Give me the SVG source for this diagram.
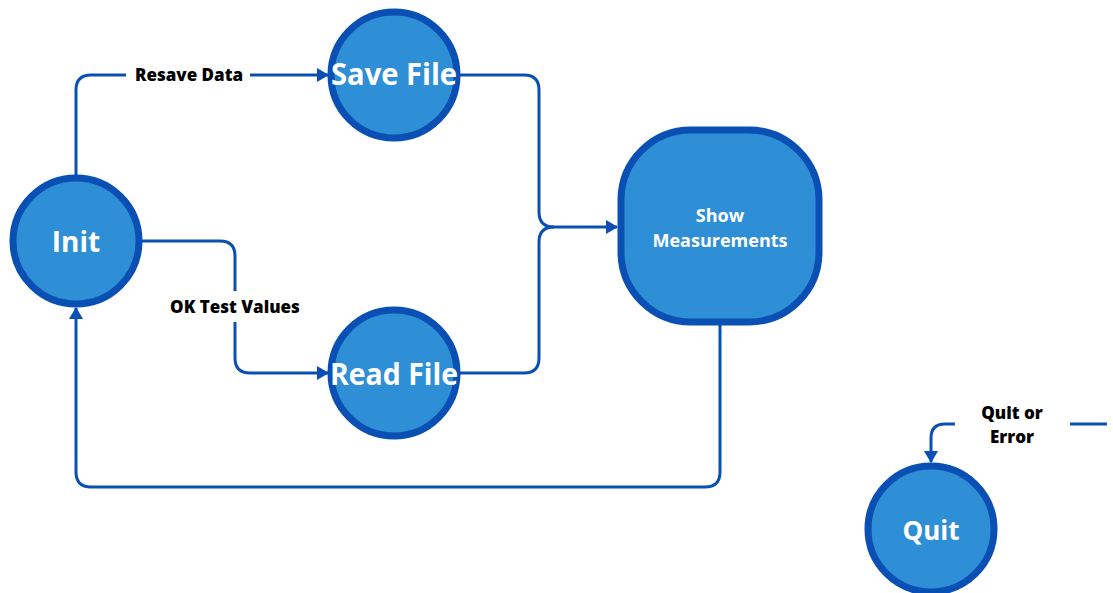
<svg xmlns="http://www.w3.org/2000/svg" width="1113" height="593" viewBox="0 0 1113 593">
<style>
.node{fill:#2f8fd6;stroke:#0a50b4;stroke-width:7}
.edge{fill:none;stroke:#0a50b4;stroke-width:3}
.nt{fill:#ffffff;font-family:"Open Sans","Liberation Sans",sans-serif;font-weight:700;text-anchor:middle}
.lbl{fill:#000000;font-family:"Open Sans","Liberation Sans",sans-serif;font-weight:800;font-size:17px;text-anchor:middle}
</style>
<defs>
<marker id="arr" markerUnits="userSpaceOnUse" markerWidth="12" markerHeight="14" viewBox="0 0 12 14" refX="11" refY="7" orient="auto">
<path d="M0,0 L12,7 L0,14 Z" fill="#0a50b4"/>
</marker>
</defs>
<rect width="1113" height="593" fill="#ffffff"/>
<g id="connectors">
<path class="edge" d="M76,175 V90 Q76,75 91,75 H126"/>
<path class="edge" d="M250,75 H328" marker-end="url(#arr)"/>
<text class="lbl" x="189" y="81">Resave Data</text>
<path class="edge" d="M142,241 H220 Q235,241 235,256 V291"/>
<path class="edge" d="M235,322 V358 Q235,373 250,373 H328" marker-end="url(#arr)"/>
<text class="lbl" x="235" y="313">OK Test Values</text>
<path class="edge" d="M460,75 H524 Q539,75 539,90 V212 Q539,227 554,227 H617" marker-end="url(#arr)"/>
<path class="edge" d="M460,373 H524 Q539,373 539,358 V242 Q539,227 554,227"/>
<path class="edge" d="M720,325 V472 Q720,487 705,487 H91 Q76,487 76,472 V308" marker-end="url(#arr)"/>
<path class="edge" d="M955,424 H945 Q931,424 931,438 V462" marker-end="url(#arr)"/>
<path class="edge" d="M1070,424 H1107"/>
<text class="lbl" x="1012" y="419">Quit or</text>
<text class="lbl" x="1012" y="443">Error</text>
</g>
<g id="init">
<circle class="node" cx="76" cy="241" r="63"/>
<text class="nt" x="76" y="252" font-size="28">Init</text>
</g>
<g id="save-file">
<circle class="node" cx="394" cy="75" r="63"/>
<text class="nt" x="394" y="85" font-size="30" textLength="126" lengthAdjust="spacingAndGlyphs">Save File</text>
</g>
<g id="read-file">
<circle class="node" cx="394" cy="373" r="63"/>
<text class="nt" x="394" y="385" font-size="30" textLength="128" lengthAdjust="spacingAndGlyphs">Read File</text>
</g>
<g id="show-measurements">
<rect class="node" x="621" y="130" width="198" height="192" rx="70" ry="70"/>
<text class="nt" x="720" y="222" font-size="18" font-weight="600">Show</text>
<text class="nt" x="720" y="247" font-size="18" font-weight="600">Measurements</text>
</g>
<g id="quit">
<circle class="node" cx="931" cy="529" r="63"/>
<text class="nt" x="931" y="540" font-size="26">Quit</text>
</g>
</svg>
